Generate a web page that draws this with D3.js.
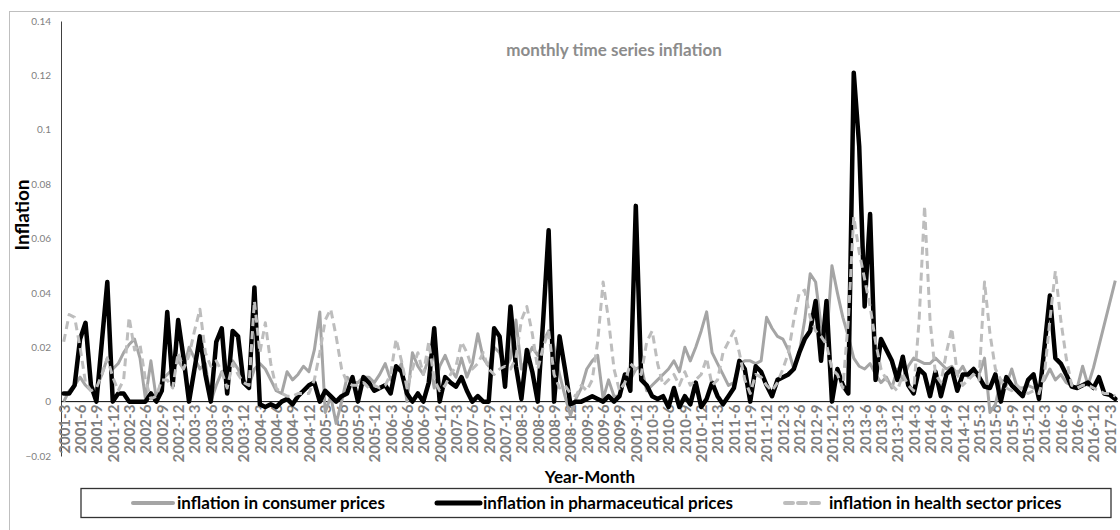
<!DOCTYPE html>
<html>
<head>
<meta charset="utf-8">
<script src="https://cdn.jsdelivr.net/npm/d3@7"></script>
<style>
  body { margin: 0; background: #fff; }
  svg { display: block; font-family: Lato, "Open Sans", sans-serif; }
</style>
</head>
<body>
<svg id="chart" width="1120" height="530"></svg>
<script>
// monthly categories 2001-3 .. 2017-4
const months = d3.range(194).map(i => `${2001 + Math.floor((i + 2) / 12)}-${(i + 2) % 12 + 1}`);

const yTicks = [-0.02, 0, 0.02, 0.04, 0.06, 0.08, 0.1, 0.12, 0.14];

const consumer = [
  0.000, 0.004, 0.006, 0.009, 0.006, 0.004, 0.005, 0.010, 0.016, 0.012, 0.014, 0.018,
  0.021, 0.023, 0.016, 0.001, 0.015, 0.001, 0.008, 0.010, 0.012, 0.015, 0.012, 0.020,
  0.016, 0.012, 0.014, 0.000, 0.006, 0.011, 0.012, 0.015, 0.012, 0.008, 0.006, 0.012,
  0.014, 0.012, 0.008, 0.004, 0.003, 0.011, 0.008, 0.010, 0.013, 0.011, 0.019, 0.033,
  -0.004, 0.002, -0.008, 0.000, 0.009, 0.007, 0.007, 0.009, 0.009, 0.007, 0.010, 0.014,
  0.008, 0.011, 0.014, 0.000, 0.018, 0.013, 0.010, 0.016, 0.005, 0.013, 0.017, 0.012,
  0.009, 0.016, 0.009, 0.014, 0.025, 0.016, 0.013, 0.020, 0.018, 0.012, 0.016, 0.030,
  0.012, 0.016, 0.020, 0.017, 0.022, 0.026, 0.020, 0.010, 0.002, -0.005, 0.001, 0.005,
  0.012, 0.015, 0.017, 0.001, 0.008, 0.002, 0.002, 0.010, 0.008, 0.012, 0.013, 0.004,
  0.006, 0.008, 0.010, 0.012, 0.015, 0.011, 0.020, 0.015, 0.020, 0.026, 0.033, 0.018,
  0.014, 0.010, 0.006, 0.007, 0.014, 0.015, 0.015, 0.014, 0.015, 0.031, 0.027, 0.024,
  0.023, 0.019, 0.012, 0.018, 0.030, 0.047, 0.044, 0.028, 0.022, 0.050, 0.040, 0.031,
  0.024, 0.016, 0.013, 0.012, 0.014, 0.010, 0.007, 0.009, 0.005, 0.012, 0.008, 0.013,
  0.016, 0.015, 0.014, 0.014, 0.016, 0.014, 0.012, 0.013, 0.010, 0.013, 0.009, 0.012,
  0.010, 0.016, -0.004, -0.001, 0.008, 0.006, 0.012, 0.005, 0.005, 0.006, 0.005, 0.006,
  0.008, 0.012, 0.008, 0.010, 0.007, 0.006, 0.005, 0.013, 0.006, 0.0125, 0.0205, 0.0285,
  0.0365, 0.0445
];

const pharma = [
  0.003, 0.003, 0.006, 0.023, 0.029, 0.006, 0.000, 0.022, 0.044, 0.000, 0.003, 0.003,
  0.000, 0.000, 0.000, 0.000, 0.003, 0.000, 0.004, 0.033, 0.006, 0.030, 0.016, 0.000,
  0.012, 0.024, 0.010, 0.000, 0.022, 0.027, 0.003, 0.026, 0.024, 0.007, 0.005, 0.042,
  -0.001, -0.002, -0.001, -0.002, 0.000, 0.001, -0.001, 0.002, 0.004, 0.006, 0.007, 0.000,
  0.004, 0.002, 0.000, 0.002, 0.003, 0.009, 0.000, 0.009, 0.007, 0.004, 0.005, 0.006,
  0.003, 0.013, 0.011, 0.003, 0.000, 0.003, 0.000, 0.007, 0.027, 0.000, 0.009, 0.007,
  0.0055, 0.009, 0.004, 0.000, 0.002, 0.000, 0.000, 0.027, 0.024, 0.0055, 0.035, 0.013,
  0.001, 0.019, 0.011, 0.000, 0.030, 0.063, 0.000, 0.024, 0.012, -0.001, 0.000, 0.000,
  0.001, 0.002, 0.001, 0.000, 0.002, 0.000, 0.002, 0.010, 0.004, 0.072, 0.008, 0.006,
  0.002, 0.001, 0.002, -0.002, 0.005, -0.002, 0.002, -0.001, 0.007, -0.002, 0.001, 0.007,
  0.002, -0.001, 0.002, 0.005, 0.015, 0.012, 0.000, 0.013, 0.011, 0.006, 0.002, 0.008,
  0.009, 0.010, 0.012, 0.018, 0.023, 0.026, 0.037, 0.015, 0.037, 0.000, 0.012, 0.006,
  0.003, 0.121, 0.094, 0.035, 0.069, 0.008, 0.023, 0.019, 0.015, 0.008, 0.0165, 0.006,
  0.003, 0.012, 0.010, 0.002, 0.011, 0.002, 0.010, 0.012, 0.004, 0.010, 0.010, 0.012,
  0.009, 0.0055, 0.005, 0.010, 0.000, 0.009, 0.006, 0.004, 0.002, 0.008, 0.010, 0.001,
  0.020, 0.039, 0.016, 0.014, 0.010, 0.0055, 0.005, 0.006, 0.007, 0.005, 0.009, 0.003,
  0.0025, 0.001
];

const health = [
  0.022, 0.032, 0.031, 0.020, 0.007, 0.004, 0.005, 0.010, 0.016, 0.009, 0.004, 0.008,
  0.031, 0.019, 0.021, 0.008, 0.001, 0.002, 0.008, 0.008, 0.005, 0.018, 0.012, 0.017,
  0.026, 0.034, 0.018, 0.013, 0.015, 0.011, 0.005, 0.014, 0.010, 0.007, 0.006, 0.037,
  0.018, 0.029, 0.014, 0.005, 0.003, 0.002, 0.002, 0.003, 0.003, 0.003, 0.008, 0.018,
  0.030, 0.034, 0.024, 0.012, 0.007, 0.006, 0.006, 0.007, 0.005, 0.006, 0.005, 0.006,
  0.010, 0.023, 0.015, 0.005, 0.012, 0.018, 0.010, 0.022, 0.008, 0.004, 0.006, 0.010,
  0.013, 0.022, 0.018, 0.012, 0.014, 0.018, 0.012, 0.010, 0.012, 0.013, 0.012, 0.016,
  0.030, 0.035, 0.025, 0.012, 0.020, 0.026, 0.010, 0.005, 0.006, 0.003, 0.002, 0.006,
  0.004, 0.008, 0.022, 0.044, 0.030, 0.012, 0.004, 0.007, 0.014, 0.012, 0.010, 0.022,
  0.026, 0.014, 0.006, 0.008, 0.010, 0.006, 0.011, 0.006, 0.008, 0.010, 0.016, 0.006,
  0.008, 0.018, 0.022, 0.026, 0.018, 0.008, 0.003, 0.010, 0.009, 0.006, 0.004, 0.007,
  0.012, 0.018, 0.030, 0.040, 0.041, 0.031, 0.026, 0.024, 0.021, 0.012, 0.010, 0.005,
  0.030, 0.068, 0.055, 0.045, 0.035, 0.022, 0.012, 0.008, 0.006, 0.004, 0.010, 0.006,
  0.004, 0.030, 0.072, 0.030, 0.010, 0.007, 0.018, 0.027, 0.010, 0.006, 0.008, 0.010,
  0.008, 0.044, 0.025, 0.012, 0.008, 0.005, 0.004, 0.006, 0.004, 0.003, 0.004, 0.003,
  0.010, 0.030, 0.048, 0.030, 0.016, 0.006, 0.005, 0.006, 0.006, 0.005, 0.004, 0.003,
  0.003, 0.002
];

const seriesNames = [
  'inflation in consumer prices',
  'inflation in pharmaceutical prices',
  'inflation in health sector prices'
];

const svg = d3.select('#chart');

// outer chart border (runs off the right/bottom edge like the source)
svg.append('rect')
  .attr('x', 9.5).attr('y', 11.5)
  .attr('width', 1200).attr('height', 600)
  .attr('fill', 'none').attr('stroke', '#bfbfbf');

const x = d3.scalePoint().domain(months).range([61, 1118]).padding(0.5);
const y = d3.scaleLinear().domain([-0.02, 0.14]).range([456, 21]);

// y axis
const yAxis = svg.append('g').attr('transform', 'translate(61,0)')
  .call(d3.axisLeft(y).tickValues(yTicks).tickSize(0).tickPadding(10).tickFormat(d => d3.format('~g')(d)));
yAxis.select('.domain').attr('stroke', '#404040');
yAxis.selectAll('text').attr('fill', '#808080').attr('font-size', 10).attr('font-family', 'Lato, sans-serif');

// zero line with x tick labels
const xAxis = svg.append('g').attr('transform', `translate(0,${y(0)})`)
  .call(d3.axisBottom(x).tickValues(months.filter((d, i) => i % 3 === 0)).tickSize(0).tickSizeOuter(0));
xAxis.select('.domain').attr('d', 'M61,0H1118').attr('stroke', '#000');
xAxis.selectAll('text')
  .attr('transform', 'rotate(-90)')
  .attr('x', -3).attr('y', 0).attr('dy', '0.36em')
  .attr('text-anchor', 'end')
  .attr('fill', '#7f7f7f').attr('font-size', 15).attr('font-weight', 'bold')
  .attr('font-family', 'Lato, sans-serif');

const line = d3.line().x((d, i) => x(months[i])).y(d => y(d));

svg.append('path').datum(consumer).attr('d', line)
  .attr('fill', 'none').attr('stroke', '#a5a5a5').attr('stroke-width', 3).attr('stroke-linejoin', 'round');
svg.append('path').datum(pharma).attr('d', line)
  .attr('fill', 'none').attr('stroke', '#000').attr('stroke-width', 4.5).attr('stroke-linejoin', 'round').attr('stroke-linecap', 'round');
svg.append('path').datum(health).attr('d', line)
  .attr('fill', 'none').attr('stroke', '#bdbdbd').attr('stroke-width', 3).attr('stroke-dasharray', '8,5').attr('stroke-linejoin', 'round');

// titles
svg.append('text').attr('x', 614).attr('y', 56).attr('text-anchor', 'middle')
  .attr('font-size', 17).attr('font-weight', 'bold').attr('fill', '#8c8c8c')
  .text('monthly time series inflation');
svg.append('text').attr('transform', 'translate(29,215) rotate(-90)').attr('text-anchor', 'middle')
  .attr('font-size', 19).attr('font-weight', 'bold').attr('fill', '#000')
  .text('Inflation');
svg.append('text').attr('x', 590).attr('y', 483).attr('text-anchor', 'middle')
  .attr('font-size', 17).attr('font-weight', 'bold').attr('fill', '#000')
  .text('Year-Month');

// legend
svg.append('rect').attr('x', 81).attr('y', 488.5).attr('width', 1030).attr('height', 29)
  .attr('fill', '#fff').attr('stroke', '#333').attr('stroke-width', 1.3);
const legendItems = [
  { name: seriesNames[0], x0: 133, len: 40, gap: 44, stroke: '#a5a5a5', w: 4, dash: null },
  { name: seriesNames[1], x0: 437, len: 43, gap: 46, stroke: '#000', w: 5, dash: null },
  { name: seriesNames[2], x0: 785, len: 37, gap: 44, stroke: '#bdbdbd', w: 4, dash: '8,5' }
];
const lg = svg.append('g').selectAll('g').data(legendItems).join('g')
  .attr('transform', d => `translate(${d.x0},503)`);
lg.append('line').attr('x1', 0).attr('x2', d => d.len).attr('y1', 0).attr('y2', 0)
  .attr('stroke', d => d.stroke).attr('stroke-width', d => d.w)
  .attr('stroke-dasharray', d => d.dash).attr('stroke-linecap', 'round');
lg.append('text').attr('x', d => d.gap).attr('y', 0).attr('dy', '0.35em')
  .attr('font-size', 17).attr('font-weight', 'bold').attr('fill', '#000')
  .text(d => d.name);
</script>
</body>
</html>
